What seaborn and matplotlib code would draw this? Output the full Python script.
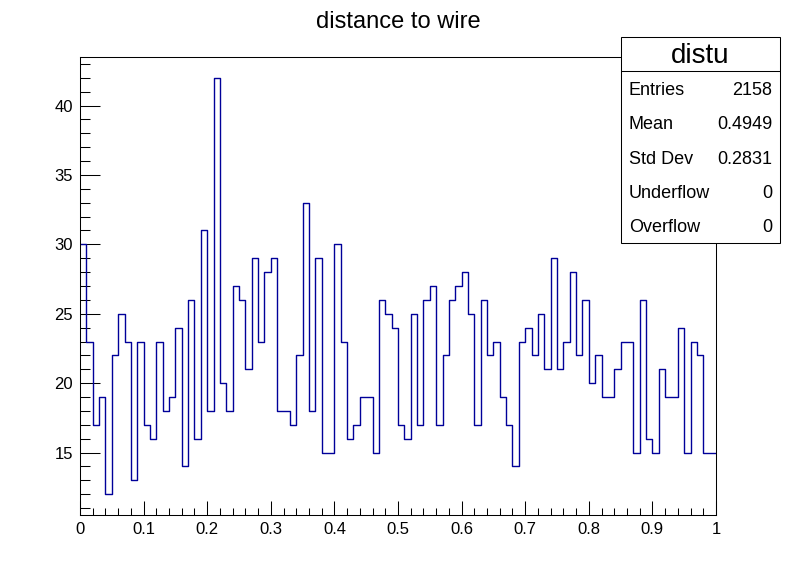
import numpy as np
import pandas as pd
import matplotlib
matplotlib.use("Agg")
import matplotlib.pyplot as plt
import seaborn as sns
from matplotlib.patches import Rectangle
from matplotlib.lines import Line2D
from matplotlib.ticker import MultipleLocator

# bin contents of "distu" (100 bins from 0 to 1)
counts = [30, 23, 17, 19, 12, 22, 25, 23, 13, 23,
          17, 16, 23, 18, 19, 24, 14, 26, 16, 31,
          18, 42, 20, 18, 27, 26, 21, 29, 23, 28,
          29, 18, 18, 17, 22, 33, 18, 29, 15, 15,
          30, 23, 16, 17, 19, 19, 15, 26, 25, 24,
          17, 16, 25, 17, 26, 27, 17, 22, 26, 27,
          28, 25, 17, 26, 22, 23, 19, 17, 14, 23,
          24, 22, 25, 21, 29, 21, 23, 28, 22, 26,
          20, 22, 19, 19, 21, 23, 23, 15, 26, 16,
          15, 21, 19, 19, 24, 15, 23, 22, 15, 15]
n_bins = len(counts)
centers = (np.arange(n_bins) + 0.5) / n_bins

stat_names = ["Entries", "Mean", "Std Dev", "Underflow", "Overflow"]
stat_values = ["2158", "0.4949", "0.2831", "0", "0"]

sns.set_style("white")
plt.rcParams['font.family'] = ['Liberation Sans', 'DejaVu Sans']
plt.rcParams['text.color'] = 'black'

df = pd.DataFrame({'x': centers, 'w': counts})

fig = plt.figure(figsize=(7.96, 5.72), dpi=100)
ax = fig.add_axes([0.1005, 0.0997, 0.799, 0.8006])

sns.histplot(data=df, x='x', weights='w', bins=n_bins, binrange=(0, 1),
             element='step', fill=False, color='#000099', linewidth=1.0, ax=ax)

ax.set_xlim(0, 1)
ax.set_ylim(10.5, 43.5)
ax.set_xlabel("")
ax.set_ylabel("")

ax.xaxis.set_minor_locator(MultipleLocator(0.02))
ax.yaxis.set_minor_locator(MultipleLocator(1))
ax.set_xticks(np.arange(0, 1.01, 0.1))
ax.set_xticklabels(["0", "0.1", "0.2", "0.3", "0.4", "0.5", "0.6", "0.7", "0.8", "0.9", "1"])
ax.set_yticks([15, 20, 25, 30, 35, 40])
ax.set_yticklabels(["15", "20", "25", "30", "35", "40"])

ax.tick_params(axis='both', which='both', direction='in', colors='black',
               bottom=True, left=True, top=False, right=False, labelsize=12)
ax.tick_params(axis='y', which='major', length=14.4, width=0.75, pad=5)
ax.tick_params(axis='y', which='minor', length=7.2, width=0.75)
ax.tick_params(axis='x', which='major', length=10, width=0.75, pad=5)
ax.tick_params(axis='x', which='minor', length=5, width=0.75)
for s in ax.spines.values():
    s.set_color('black')
    s.set_linewidth(0.75)

fig.text(0.5, 1 - 22 / 572, "distance to wire", ha='center', va='center', fontsize=17)

# stats box
W, H = 796, 572
x0, x1, y0, y1 = 621, 780, 37, 243
fig.add_artist(Rectangle((x0 / W, 1 - y1 / H), (x1 - x0) / W, (y1 - y0) / H,
                         transform=fig.transFigure, facecolor='white',
                         edgecolor='black', linewidth=0.75, zorder=5))
row_h = (y1 - y0) / 6
fig.add_artist(Line2D([x0 / W, x1 / W], [1 - (y0 + row_h) / H] * 2,
                      transform=fig.transFigure, color='black', linewidth=0.75, zorder=6))
fig.text((x0 + x1) / 2 / W, 1 - (y0 + row_h / 2 + 2) / H, "distu", ha='center', va='center',
         fontsize=20, zorder=7)
for i, (n, v) in enumerate(zip(stat_names, stat_values)):
    yc = 1 - (y0 + row_h * (i + 1.5) + 2) / H
    fig.text((x0 + 8) / W, yc, n, ha='left', va='center', fontsize=13, zorder=7)
    fig.text((x1 - 8) / W, yc, v, ha='right', va='center', fontsize=13, zorder=7)

fig.savefig("out.png", dpi=100)
